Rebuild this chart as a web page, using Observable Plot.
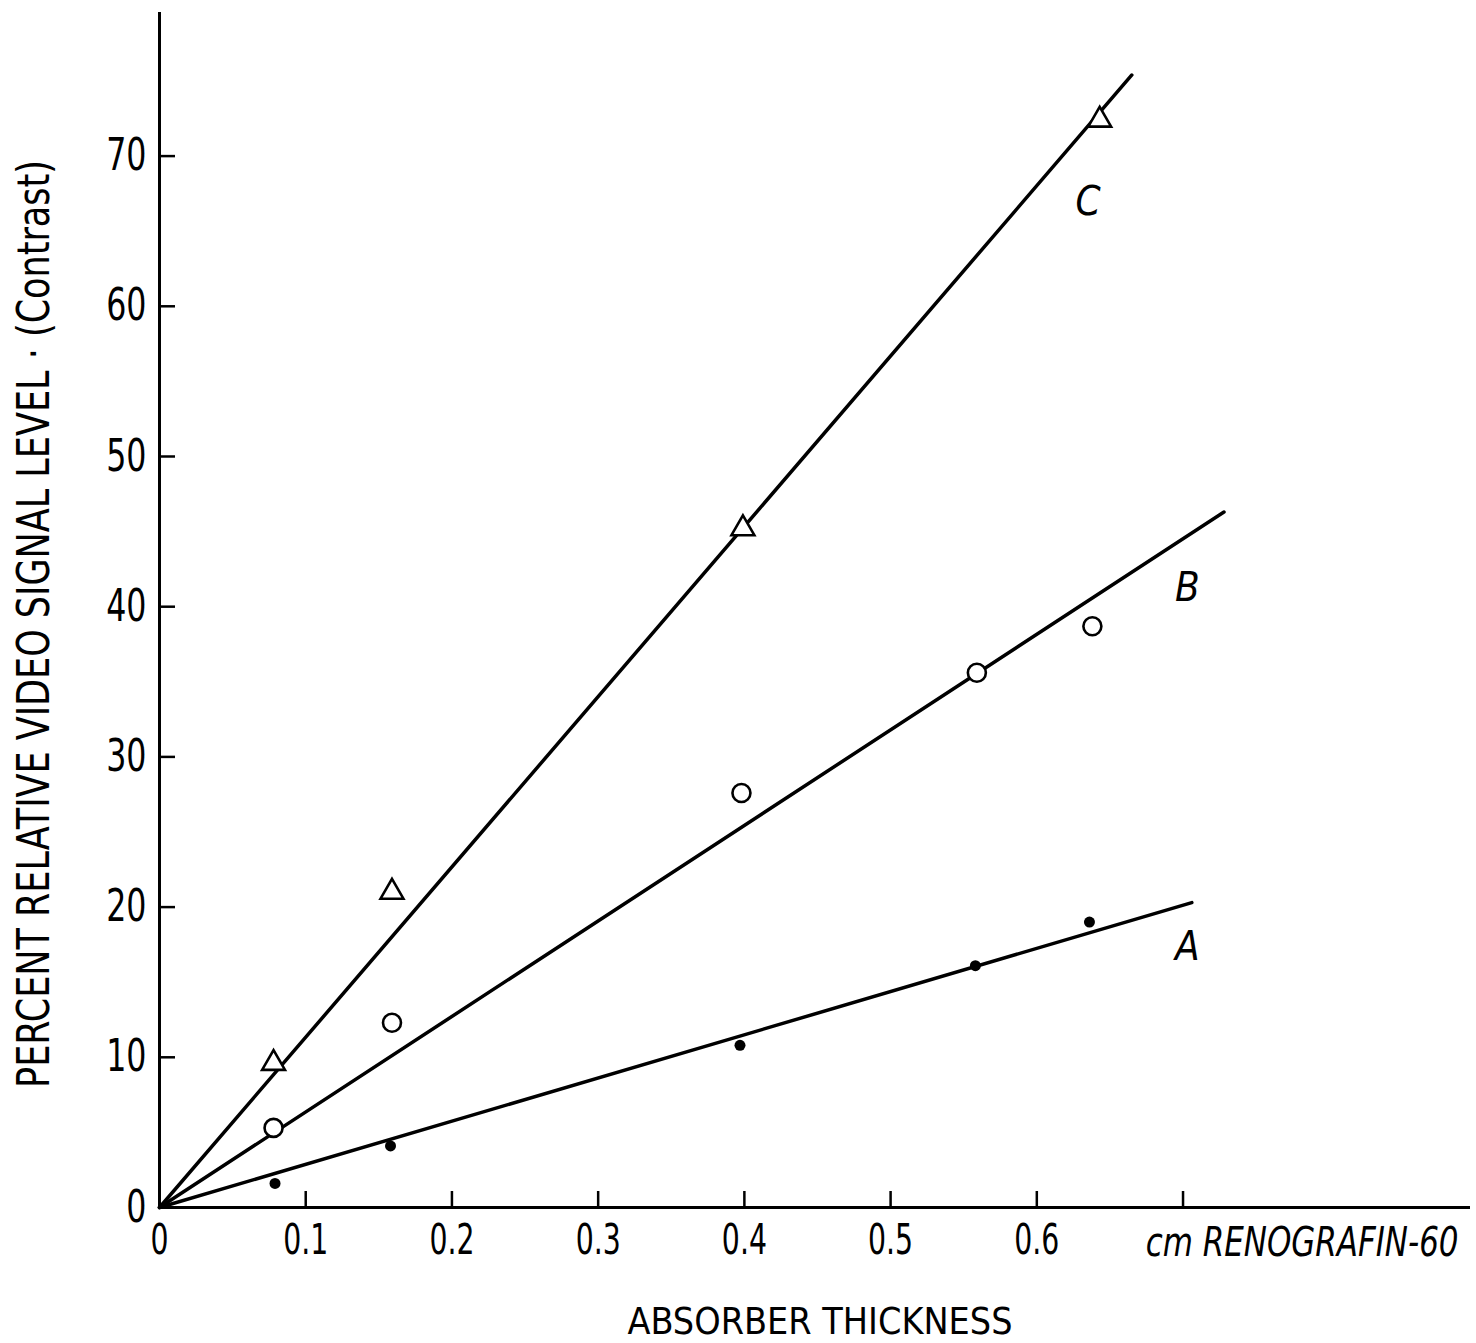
<!DOCTYPE html>
<html>
<head>
<meta charset="utf-8">
<script src="https://cdn.jsdelivr.net/npm/d3@7"></script>
<script src="https://cdn.jsdelivr.net/npm/@observablehq/plot@0.6"></script>
<style>
  html, body { margin: 0; padding: 0; background: #fff; }
  #chart svg { display: block; }
</style>
</head>
<body>
<div id="chart"></div>
<script>
// ---- data ----
const xTickValues = [0.1, 0.2, 0.3, 0.4, 0.5, 0.6, 0.7];
const xLabelValues = [0, 0.1, 0.2, 0.3, 0.4, 0.5, 0.6];
const xLabelTexts = ["0", "0.1", "0.2", "0.3", "0.4", "0.5", "0.6"];
const yTickValues = [0, 10, 20, 30, 40, 50, 60, 70];

// Series A (filled dots)
const aX = [0.079, 0.158, 0.397, 0.558, 0.636];
const aY = [1.6, 4.1, 10.8, 16.1, 19.0];
// Series B (open circles)
const bX = [0.078, 0.159, 0.398, 0.559, 0.638];
const bY = [5.3, 12.3, 27.6, 35.6, 38.7];
// Series C (open triangles)
const cX = [0.078, 0.159, 0.399, 0.643];
const cY = [9.6, 21.0, 45.2, 72.4];

// Fitted straight lines (start, end)
const fitAX = [0, 0.706], fitAY = [0, 20.3];
const fitBX = [0, 0.728], fitBY = [0, 46.3];
const fitCX = [0, 0.665], fitCY = [0, 75.4];

// Curve labels
const curveNames = ["C", "B", "A"];
const curveNameX = [0.635, 0.703, 0.703];
const curveNameY = [66.9, 41.25, 17.3];

const yLabel = "PERCENT RELATIVE VIDEO SIGNAL LEVEL · (Contrast)";
const xLabel = "ABSORBER THICKNESS";
const unitLabel = "cm RENOGRAFIN-60";

// ---- build tables ----
const toRows = (xs, ys) => xs.map((x, i) => ({x, y: ys[i]}));
const ptsA = toRows(aX, aY), ptsB = toRows(bX, bY), ptsC = toRows(cX, cY);
const lineA = toRows(fitAX, fitAY), lineB = toRows(fitBX, fitBY), lineC = toRows(fitCX, fitCY);
const names = curveNames.map((t, i) => ({t, x: curveNameX[i], y: curveNameY[i]}));
const xLabelMap = new Map(xLabelValues.map((v, i) => [v, xLabelTexts[i]]));

const narrow = '"Liberation Sans Narrow", "DejaVu Sans Condensed", "DejaVu Sans", sans-serif';

const chart = Plot.plot({
  width: 1476,
  height: 1343,
  marginLeft: 159,
  marginRight: 6,
  marginTop: 12,
  marginBottom: 136,
  x: {domain: [0, 0.8966]},
  y: {domain: [0, 79.56]},
  style: {background: "#fff", color: "#000", fontFamily: narrow},
  marks: [
    // axis tick marks (inward)
    Plot.axisY(yTickValues.slice(1), {anchor: "left", tickSize: -16, strokeWidth: 2.5, text: null, label: null}),
    Plot.axisX(xTickValues, {anchor: "bottom", tickSize: -16, strokeWidth: 2.5, text: null, label: null}),
    // axis tick labels
    Plot.axisY(yTickValues, {anchor: "left", tickSize: 0, tickPadding: 13, fontSize: 44, tickFormat: d => String(d), label: null}),
    Plot.axisX(xLabelValues, {anchor: "bottom", tickSize: 0, tickPadding: 17, fontSize: 42, tickFormat: d => xLabelMap.get(d), label: null}),
    // axis lines
    Plot.ruleX([0], {strokeWidth: 3}),
    Plot.ruleY([0], {strokeWidth: 3}),
    // fitted lines
    Plot.line(lineA, {x: "x", y: "y", stroke: "#000", strokeWidth: 3.5}),
    Plot.line(lineB, {x: "x", y: "y", stroke: "#000", strokeWidth: 3.5}),
    Plot.line(lineC, {x: "x", y: "y", stroke: "#000", strokeWidth: 3.5}),
    // data points
    Plot.dot(ptsA, {x: "x", y: "y", r: 5.5, fill: "#000", stroke: "none"}),
    Plot.dot(ptsB, {x: "x", y: "y", r: 9, fill: "#fff", stroke: "#000", strokeWidth: 2.6}),
    Plot.dot(ptsC, {x: "x", y: "y", r: 8.5, symbol: "triangle", fill: "#fff", stroke: "#000", strokeWidth: 2.6}),
    // curve names
    Plot.text(names, {x: "x", y: "y", text: "t", fontSize: 40, fontStyle: "italic", fill: "#000"}),
    // unit label at end of x axis
    Plot.text([unitLabel], {frameAnchor: "bottom-right", textAnchor: "end", lineAnchor: "middle", dx: -12, dy: 36, fontSize: 40, fontStyle: "italic", fill: "#000"}),
    // x axis title
    Plot.text([xLabel], {frameAnchor: "bottom", textAnchor: "middle", lineAnchor: "middle", dx: 5, dy: 114, fontSize: 38, fill: "#000"}),
    // y axis title
    Plot.text([yLabel], {frameAnchor: "left", textAnchor: "middle", rotate: -90, lineAnchor: "middle", dx: -125, dy: 14, fontSize: 44, fill: "#000"})
  ]
});

document.getElementById("chart").appendChild(chart);

// narrow the glyphs like the reference lettering (measured after attaching)
const yTickSet = new Set(yTickValues.map(String));
const xTickSet = new Set(xLabelTexts);
d3.select(chart).selectAll("text").each(function() {
  const t = this.textContent;
  const sel = d3.select(this);
  const fit = len => sel.attr("textLength", len).attr("lengthAdjust", "spacingAndGlyphs");
  const g = this.parentNode;
  const parent = (g && g.getAttribute && g.getAttribute("aria-label")) || "";
  if (t === yLabel) fit(928);
  else if (t === xLabel) fit(385);
  else if (t === unitLabel) fit(this.getComputedTextLength() * 0.86);
  else if (parent.startsWith("y-axis") && yTickSet.has(t)) fit(this.getComputedTextLength() * 0.8);
  else if (parent.startsWith("x-axis") && xTickSet.has(t)) fit(this.getComputedTextLength() * 0.75);
});
</script>
</body>
</html>
